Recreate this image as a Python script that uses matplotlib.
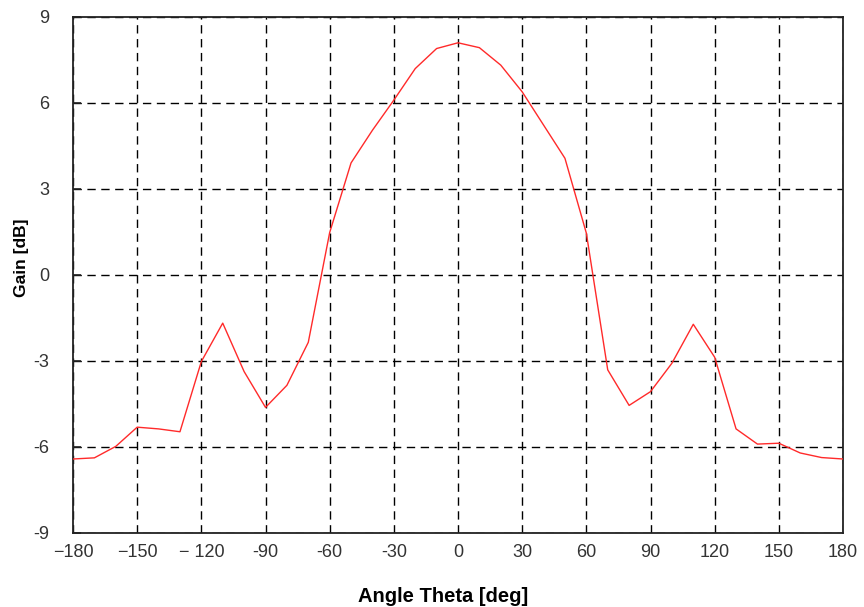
import matplotlib
matplotlib.use('Agg')
import matplotlib.pyplot as plt

# Antenna gain pattern, sampled every 10 deg
theta = list(range(-180, 181, 10))
gain = [
    -6.42, -6.38, -5.98, -5.31, -5.37, -5.47, -3.02, -1.68, -3.37, -4.62,
    -3.85, -2.35, 1.48, 3.91, 5.05, 6.10, 7.20, 7.90, 8.10, 7.93,
    7.32, 6.39, 5.23, 4.07, 1.46, -3.31, -4.55, -4.07, -3.08, -1.72,
    -2.87, -5.37, -5.90, -5.87, -6.21, -6.37, -6.42,
]
xticks = [-180, -150, -120, -90, -60, -30, 0, 30, 60, 90, 120, 150, 180]
xticklabels = ['\u2212180', '\u2212150', '\u2212 120', '-90', '-60', '-30',
               '0', '30', '60', '90', '120', '150', '180']
yticks = [-9, -6, -3, 0, 3, 6, 9]
yticklabels = ['-9', '-6', '-3', '0', '3', '6', '9']

plt.rcParams['font.family'] = ['Liberation Sans', 'DejaVu Sans']

fig = plt.figure(figsize=(8.64, 6.07), dpi=100)
ax = fig.add_axes([0.0845, 0.122, 0.8912, 0.850])

ax.plot(theta, gain, color='#ff2a2a', linewidth=1.0, zorder=3)

ax.set_xlim(-180, 180)
ax.set_ylim(-9, 9)
ax.set_xticks(xticks)
ax.set_xticklabels(xticklabels)
ax.set_yticks(yticks)
ax.set_yticklabels(yticklabels)
ax.tick_params(axis='x', length=0, labelsize=13, labelcolor='#333333', pad=8)
ax.tick_params(axis='y', direction='in', length=6, width=1.2, color='#222222',
               labelsize=13, labelcolor='#333333', pad=17)

ax.grid(True, color='black', linestyle=(0, (6, 4)), linewidth=1.0)
for side in ['left', 'bottom', 'top', 'right']:
    ax.spines[side].set_color('#222222')
    ax.spines[side].set_linewidth(1.3)

# axis titles placed by figure coordinates
fig.text(443 / 864, 1 - 596 / 607, 'Angle Theta [deg]', fontsize=14.5,
         fontweight='bold', ha='center', va='center')
fig.text(22 / 864, 1 - 258 / 607, 'Gain [dB]', fontsize=12.5,
         fontweight='bold', ha='center', va='center', rotation=90)

fig.savefig('out.png', dpi=100)
